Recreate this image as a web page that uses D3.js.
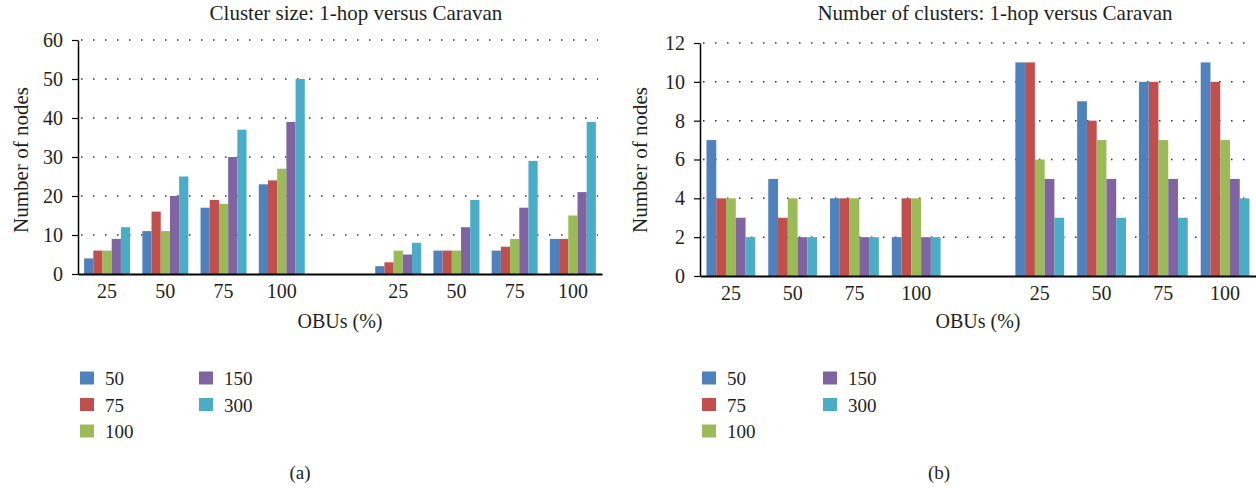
<!DOCTYPE html>
<html>
<head>
<meta charset="utf-8">
<script src="https://cdn.jsdelivr.net/npm/d3@7"></script>
<style>
    body { margin: 0; background: #fff; }
    svg text { font-family: "Liberation Serif", "DejaVu Serif", serif !important; fill: #231f20; }
</style>
</head>
<body>
<svg id="fig" width="1256" height="488" font-family="Liberation Serif, serif"></svg>
<script>
// x categories: OBU penetration, shown once for 1-hop and once for Caravan
const obuLevels = ['25', '50', '75', '100'];
const schemes = ['1-hop', 'Caravan'];

// series (legend) and their colours
const seriesNames = ['50', '75', '100', '150', '300'];
const seriesColors = ['#4F81BD', '#C0504D', '#9BBB59', '#8064A2', '#4BACC6'];

// (a) cluster size, values: 1-hop 25..100 then Caravan 25..100
const size50 = [4, 11, 17, 23, 2, 6, 6, 9];
const size75 = [6, 16, 19, 24, 3, 6, 7, 9];
const size100 = [6, 11, 18, 27, 6, 6, 9, 15];
const size150 = [9, 20, 30, 39, 5, 12, 17, 21];
const size300 = [12, 25, 37, 50, 8, 19, 29, 39];
const sizeTicks = [0, 10, 20, 30, 40, 50, 60];

// (b) number of clusters
const count50 = [7, 5, 4, 2, 11, 9, 10, 11];
const count75 = [4, 3, 4, 4, 11, 8, 10, 10];
const count100 = [4, 4, 4, 4, 6, 7, 7, 7];
const count150 = [3, 2, 2, 2, 5, 5, 5, 5];
const count300 = [2, 2, 2, 2, 3, 3, 3, 4];
const countTicks = [0, 2, 4, 6, 8, 10, 12];

// band slots: 4 groups, an empty slot, 4 groups
const slots = [
    ...obuLevels.map(o => schemes[0] + '|' + o),
    'gap',
    ...obuLevels.map(o => schemes[1] + '|' + o)
];
const valueSlots = slots.filter(s => s !== 'gap');

const serif = '"Liberation Serif", "DejaVu Serif", serif';
const svg = d3.select('#fig');

function drawChart(opt) {
    const g = svg.append('g').attr('font-family', serif);

    const x0 = d3.scaleBand()
        .domain(slots)
        .range([opt.left, opt.right])
        .paddingInner(0.21)
        .paddingOuter(0.105);

    const x1 = d3.scaleBand()
        .domain(seriesNames)
        .range([0, x0.bandwidth()]);

    const y = d3.scaleLinear()
        .domain([0, d3.max(opt.ticks)])
        .range([opt.bottom, opt.top]);

    // dotted gridlines (none on the zero line)
    g.selectAll('.grid')
        .data(opt.ticks.filter(t => t > 0))
        .join('line')
        .attr('class', 'grid')
        .attr('x1', opt.left + 3)
        .attr('x2', opt.right - 4)
        .attr('y1', d => y(d))
        .attr('y2', d => y(d))
        .attr('stroke', '#333')
        .attr('stroke-width', 1.5)
        .attr('stroke-dasharray', '1.5,10.5');

    // bars
    const rows = valueSlots.map((s, i) => ({
        slot: s,
        values: opt.series.map((arr, k) => ({ name: seriesNames[k], v: arr[i], color: seriesColors[k] }))
    }));

    g.selectAll('.grp')
        .data(rows)
        .join('g')
        .attr('class', 'grp')
        .attr('transform', d => `translate(${x0(d.slot)},0)`)
        .selectAll('rect')
        .data(d => d.values)
        .join('rect')
        .attr('x', d => x1(d.name))
        .attr('width', x1.bandwidth())
        .attr('y', d => y(d.v))
        .attr('height', d => y(0) - y(d.v))
        .attr('fill', d => d.color);

    // y axis
    const yAxis = g.append('g')
        .attr('transform', `translate(${opt.left},0)`)
        .call(d3.axisLeft(y).tickValues(opt.ticks).tickSize(6).tickPadding(9).tickSizeOuter(0));
    yAxis.attr('font-size', 20).attr('font-family', serif);
    yAxis.select('.domain').attr('stroke', '#000').attr('stroke-width', 1.5);
    yAxis.selectAll('.tick line').attr('stroke', '#000').attr('stroke-width', 1.2);

    // x axis
    const xAxis = g.append('g')
        .attr('transform', `translate(0,${opt.bottom})`)
        .call(d3.axisBottom(x0).tickSize(0).tickPadding(10).tickSizeOuter(0)
            .tickFormat(d => d === 'gap' ? '' : d.split('|')[1]));
    xAxis.attr('font-size', 20).attr('font-family', serif);
    xAxis.select('.domain').attr('stroke', '#000').attr('stroke-width', 2);

    // title
    g.append('text')
        .attr('x', opt.titleX)
        .attr('y', 20)
        .attr('text-anchor', 'middle')
        .attr('font-size', 21)
        .text(opt.title);

    // y axis title
    g.append('text')
        .attr('transform', `translate(${opt.yLabelX},160) rotate(-90)`)
        .attr('text-anchor', 'middle')
        .attr('font-size', 21)
        .text('Number of nodes');

    // x axis title
    g.append('text')
        .attr('x', opt.xLabelX)
        .attr('y', 328)
        .attr('text-anchor', 'middle')
        .attr('font-size', 20)
        .text('OBUs (%)');

    // legend: two columns, three rows
    const legend = g.selectAll('.legend')
        .data(seriesNames)
        .join('g')
        .attr('class', 'legend')
        .attr('transform', (d, i) => `translate(${opt.legendCols[Math.floor(i / 3)]},${378 + (i % 3) * 26.5})`);
    legend.append('rect')
        .attr('x', 0)
        .attr('y', -6.5)
        .attr('width', 14)
        .attr('height', 13)
        .attr('fill', (d, i) => seriesColors[i]);
    legend.append('text')
        .attr('x', 25)
        .attr('y', 7)
        .attr('font-size', 19)
        .text(d => d);

    // panel letter
    g.append('text')
        .attr('x', opt.panelX)
        .attr('y', 479)
        .attr('text-anchor', 'middle')
        .attr('font-size', 19)
        .text(opt.panel);
}

drawChart({
    left: 78, right: 602, top: 40, bottom: 274,
    ticks: sizeTicks,
    series: [size50, size75, size100, size150, size300],
    title: 'Cluster size: 1-hop versus Caravan',
    titleX: 356,
    yLabelX: 28,
    xLabelX: 340,
    legendCols: [80, 199],
    panel: '(a)',
    panelX: 300
});

drawChart({
    left: 700, right: 1256, top: 43, bottom: 276,
    ticks: countTicks,
    series: [count50, count75, count100, count150, count300],
    title: 'Number of clusters: 1-hop versus Caravan',
    titleX: 995,
    yLabelX: 647,
    xLabelX: 978,
    legendCols: [702, 823],
    panel: '(b)',
    panelX: 939
});
</script>
</body>
</html>
